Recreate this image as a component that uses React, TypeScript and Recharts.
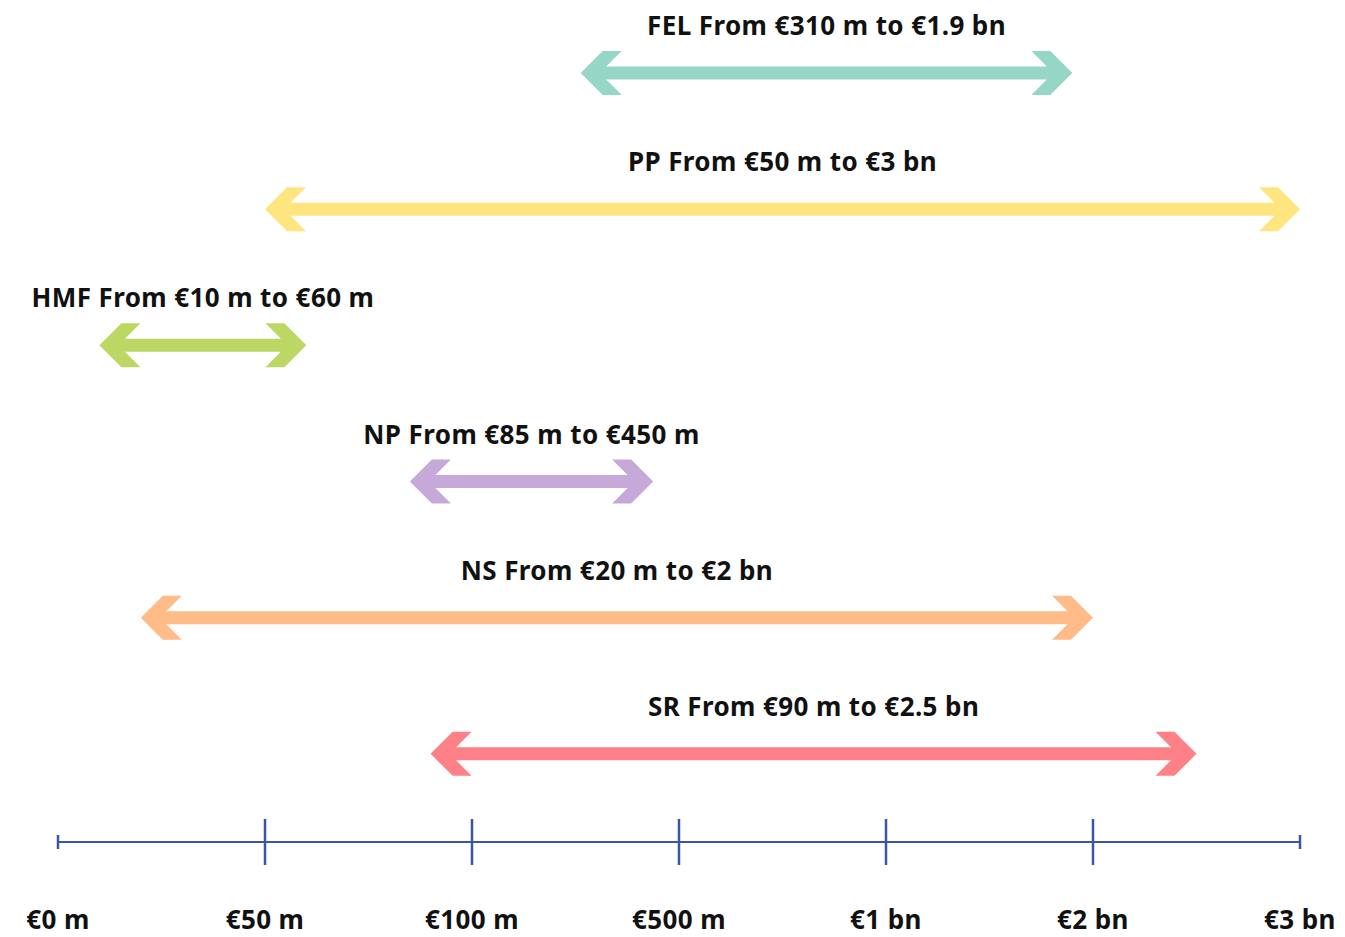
import React from 'react';
import { BarChart, Bar, XAxis, YAxis } from 'recharts';

const names = ['FEL', 'PP', 'HMF', 'NP', 'NS', 'SR'];
const lowValues = [310, 50, 10, 85, 20, 90]; // € m
const highValues = [1900, 3000, 60, 450, 2000, 2500]; // € m
const lowLabels = ['€310 m', '€50 m', '€10 m', '€85 m', '€20 m', '€90 m'];
const highLabels = ['€1.9 bn', '€3 bn', '€60 m', '€450 m', '€2 bn', '€2.5 bn'];
const colors = ['#96d6c6', '#ffe57f', '#bdd764', '#c6a9d8', '#ffbb88', '#ff8188'];

const tickValues = [0, 50, 100, 500, 1000, 2000, 3000]; // € m
const tickLabels = ['€0 m', '€50 m', '€100 m', '€500 m', '€1 bn', '€2 bn', '€3 bn'];

const AXIS_COLOR = '#3b55a5';
const FONT = '"Noto Sans", Lato, sans-serif';
const FONT_SIZE = 26;
const LETTER_SPACING = 0.4;

// piecewise scale: each tick interval occupies one unit on the axis
const toAxis = (v: number) => {
  for (let i = 0; i < tickValues.length - 1; i++) {
    if (v <= tickValues[i + 1]) {
      return i + (v - tickValues[i]) / (tickValues[i + 1] - tickValues[i]);
    }
  }
  return tickValues.length - 1;
};

const data = names.map((n, i) => ({
  name: n,
  range: [toAxis(lowValues[i]), toAxis(highValues[i])],
  label: `${n} From ${lowLabels[i]} to ${highLabels[i]}`,
  color: colors[i],
}));

const ArrowShape = (props: any) => {
  const { x, y, width, height, payload } = props;
  const cy = y + height / 2;
  const xl = Math.min(x, x + width);
  const xr = Math.max(x, x + width);
  const s = 6.5;
  const H = 22;
  const A = 19;
  const pts = [
    [xl, cy],
    [xl + H, cy - H],
    [xl + H + A, cy - H],
    [xl + A + s, cy - s],
    [xr - A - s, cy - s],
    [xr - H - A, cy - H],
    [xr - H, cy - H],
    [xr, cy],
    [xr - H, cy + H],
    [xr - H - A, cy + H],
    [xr - A - s, cy + s],
    [xl + A + s, cy + s],
    [xl + H + A, cy + H],
    [xl + H, cy + H],
  ]
    .map((p) => p.join(','))
    .join(' ');
  return (
    <g>
      <polygon points={pts} fill={payload.color} />
      <text
        x={(xl + xr) / 2}
        y={cy - 48}
        textAnchor="middle"
        dominantBaseline="central"
        fontFamily={FONT}
        fontWeight={700}
        fontSize={FONT_SIZE}
        letterSpacing={LETTER_SPACING}
        fill="#111"
      >
        {payload.label}
      </text>
    </g>
  );
};

const AxisTick = (props: any) => {
  const { x, y, payload } = props;
  const idx = payload.value as number;
  const isEnd = idx === 0 || idx === tickLabels.length - 1;
  const half = isEnd ? 7 : 23;
  return (
    <g>
      <line x1={x} x2={x} y1={y - half} y2={y + half} stroke={AXIS_COLOR} strokeWidth={2.5} />
      <text
        x={x}
        y={y + 77}
        textAnchor="middle"
        dominantBaseline="central"
        fontFamily={FONT}
        fontWeight={700}
        fontSize={FONT_SIZE}
        letterSpacing={LETTER_SPACING}
        fill="#111"
      >
        {tickLabels[idx]}
      </text>
    </g>
  );
};

export default function App() {
  return (
    <div style={{ position: 'absolute', left: 0, top: 0, width: 1345, height: 937, background: '#fff' }}>
      <BarChart
        width={1345}
        height={937}
        data={data}
        layout="vertical"
        margin={{ top: 5, right: 45, bottom: 0, left: 58 }}
      >
        <XAxis
          type="number"
          domain={[0, tickValues.length - 1]}
          ticks={tickValues.map((_, i) => i)}
          interval={0}
          height={95}
          tickSize={0}
          tickMargin={0}
          tickLine={false}
          axisLine={{ stroke: AXIS_COLOR, strokeWidth: 2 }}
          tick={<AxisTick />}
        />
        <YAxis type="category" dataKey="name" hide padding={{ top: 0, bottom: 20 }} />
        <Bar dataKey="range" barSize={40} shape={<ArrowShape />} isAnimationActive={false} />
      </BarChart>
    </div>
  );
}
